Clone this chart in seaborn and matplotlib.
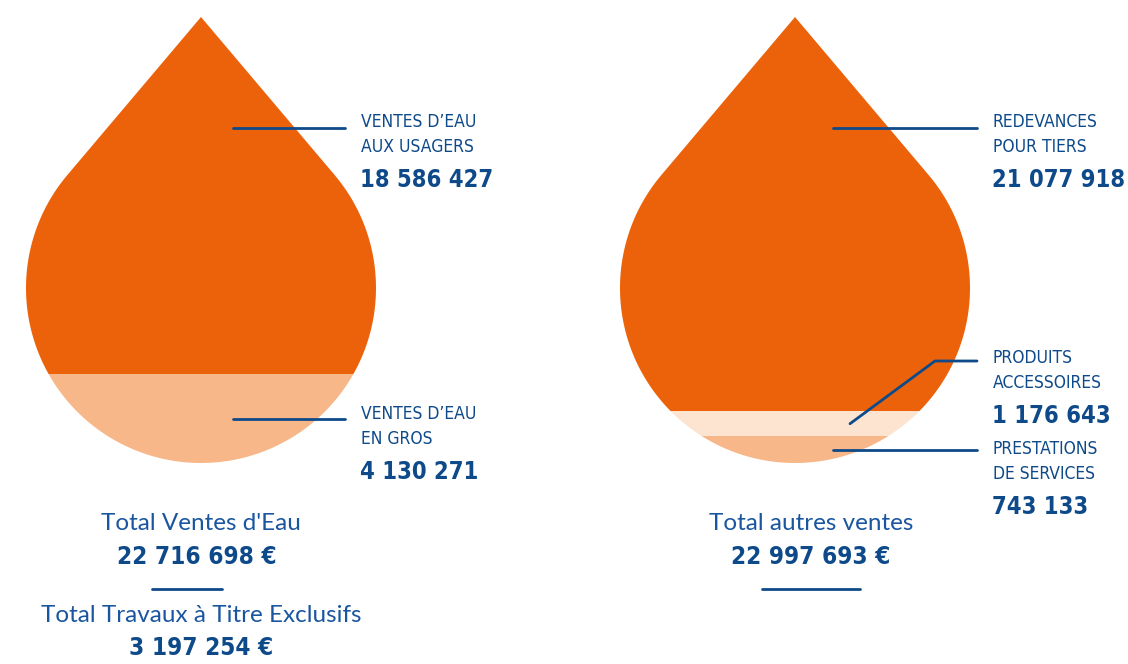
import numpy as np
import matplotlib.pyplot as plt
import seaborn as sns
from matplotlib.patches import Polygon

# values, listed from the top band of each drop down to the bottom band
left_labels = ["VENTES D\u2019EAU\nAUX USAGERS", "VENTES D\u2019EAU\nEN GROS"]
left_values = [18586427, 4130271]
right_labels = ["REDEVANCES\nPOUR TIERS", "PRODUITS\nACCESSOIRES", "PRESTATIONS\nDE SERVICES"]
right_values = [21077918, 1176643, 743133]
left_total_title = "Total Ventes d'Eau"
left_total = 22716698
extra_title = "Total Travaux \u00e0 Titre Exclusifs"
extra_total = 3197254
right_total_title = "Total autres ventes"
right_total = 22997693

left_colors = ["#EC620B", "#F7B788"]
right_colors = ["#EC620B", "#FCE4D0", "#F7B788"]
NAVY = "#0E4A8A"

sns.set_theme(style="white")
COND = ['DejaVu Sans']
LIGHT = ['Lato', 'DejaVu Sans']

TIP_Y, CY, RX, RY = 17, 288, 175, 175
BOTTOM = CY + RY
UT = (CY - TIP_Y) / RY
PHI = np.arccos(-1 / UT)          # angle of the tangent points, from straight down
TY = CY - RY / UT                 # pixel y of the tangent points
TX = RX * np.sin(PHI)


def fmt(v):
    return f"{v:,}".replace(",", " ")


def drop_outline(cx):
    t = np.linspace(PHI, -PHI, 400)
    arc_x = cx - RX * np.sin(t)
    arc_y = CY + RY * np.cos(t)
    return np.vstack([[cx, TIP_Y], np.column_stack([arc_x, arc_y])])


def half_width(y):
    w = np.where(y < TY, TX * (y - TIP_Y) / (TY - TIP_Y),
                 RX * np.sqrt(np.clip(1 - ((y - CY) / RY) ** 2, 0, None)))
    return np.where((y >= TIP_Y) & (y <= BOTTOM), w, 0)


def band_levels(values):
    # pixel y of each band edge so that band areas follow the values
    ys = np.linspace(BOTTOM, TIP_Y, 4000)
    w = half_width(ys)
    cum = np.cumsum(2 * w) * abs(ys[1] - ys[0])
    cum /= cum[-1]
    fracs = np.cumsum(values[::-1]) / np.sum(values)
    levels = [BOTTOM]
    for f in fracs[:-1]:
        levels.append(np.interp(f, cum, ys))
    levels.append(TIP_Y)
    return levels[::-1]  # top to bottom


def draw_drop(ax, cx, values, colors):
    clip = Polygon(drop_outline(cx), closed=True, facecolor="none", edgecolor="none")
    ax.add_patch(clip)
    levels = band_levels(values)
    for i, c in enumerate(colors):
        top, bot = levels[i], levels[i + 1]
        bars = ax.bar(cx, bot - top, bottom=top, width=2 * RX + 20,
                      color=c, linewidth=0)
        for b in bars:
            b.set_clip_path(clip)
    return levels


def label(ax, x, y, text, value):
    # y is the centre of the first caption line
    for k, line in enumerate(text.split("\n")):
        ax.text(x, y + 25 * k, line, color=NAVY, fontsize=12.5, family=COND,
                fontstretch="condensed", va="center", ha="left")
    ax.text(x - 1, y + 58, fmt(value), color=NAVY, fontsize=17, family=COND,
            fontstretch="condensed", fontweight="bold", va="center", ha="left")


fig = plt.figure(figsize=(11.28, 6.64), dpi=100)
ax = fig.add_axes([0, 0, 1, 1])
ax.set_xlim(0, 1128)
ax.set_ylim(664, 0)
ax.axis("off")

LCX, RCX = 201, 795
lv = draw_drop(ax, LCX, left_values, left_colors)
rv = draw_drop(ax, RCX, right_values, right_colors)

lw = 2
# left drop leaders and labels
ax.plot([LCX + 32, 345], [128, 128], color=NAVY, lw=lw)
label(ax, 361, 122, left_labels[0], left_values[0])
y2 = (lv[1] + lv[2]) / 2
ax.plot([LCX + 32, 345], [y2, y2], color=NAVY, lw=lw)
label(ax, 361, y2 - 5, left_labels[1], left_values[1])

# right drop
ax.plot([RCX + 38, 977], [128, 128], color=NAVY, lw=lw)
label(ax, 993, 122, right_labels[0], right_values[0])
ym = (rv[1] + rv[2]) / 2
ax.plot([RCX + 55, 935, 977], [ym, 361, 361], color=NAVY, lw=lw)
label(ax, 993, 358, right_labels[1], right_values[1])
yb = (rv[2] + rv[3]) / 2
ax.plot([RCX + 38, 977], [yb, yb], color=NAVY, lw=lw)
label(ax, 993, 449, right_labels[2], right_values[2])

# totals
big = dict(color=NAVY, fontsize=17.5, family=COND, fontstretch="condensed",
           fontweight="bold", ha="center", va="center")
small = dict(color="#1A56A0", fontsize=17.5, family=LIGHT, fontweight="normal",
             ha="center", va="center")
ax.text(201, 523, left_total_title, **small)
ax.text(197, 557, fmt(left_total) + " \u20ac", **big)
ax.plot([152, 222], [589, 589], color=NAVY, lw=lw)
ax.text(201, 616, extra_title, **small)
ax.text(201, 648, fmt(extra_total) + " \u20ac", **big)

ax.text(811, 523, right_total_title, **small)
ax.text(811, 557, fmt(right_total) + " \u20ac", **big)
ax.plot([762, 860], [589, 589], color=NAVY, lw=lw)

fig.savefig("out.png", dpi=100, facecolor="white")
